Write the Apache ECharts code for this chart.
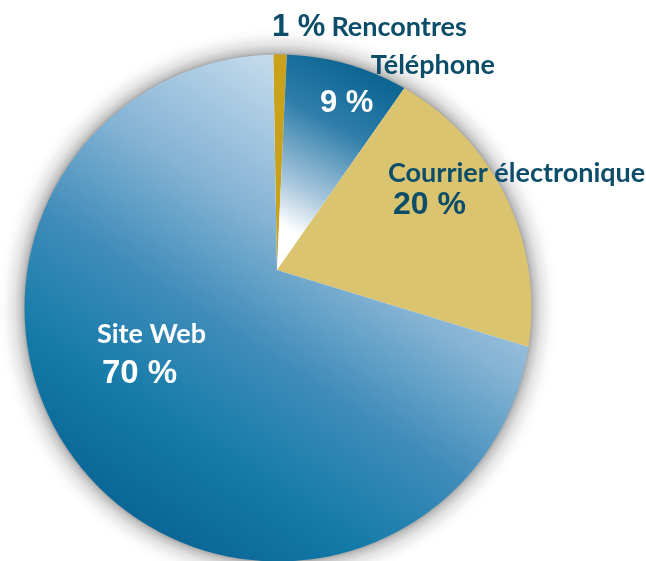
<!DOCTYPE html>
<html>
<head>
<meta charset="utf-8">
<style>
  html, body { margin: 0; padding: 0; background: #ffffff; }
  #chart { width: 646px; height: 561px; }
</style>
<script src="https://cdn.jsdelivr.net/npm/echarts@6/dist/echarts.min.js"></script>
</head>
<body>
<div id="chart"></div>
<script>
// ---- data ----
const categories = ['Rencontres', 'Téléphone', 'Courrier électronique', 'Site Web'];
const values = [1, 9, 20, 70];

// ---- styles ----
const DARK = '#0c4d6a';
const NAME_FONT = 'Lato, "Liberation Sans", sans-serif';
const NUM_FONT = '"Liberation Sans", Arial, sans-serif';

const sliceColors = [
  '#c9a11b',
  { type: 'linear', x: 385, y: 70, x2: 288, y2: 252, global: true,
    colorStops: [
      { offset: 0, color: '#07618f' },
      { offset: 0.35, color: '#2f7eaa' },
      { offset: 0.7, color: '#a9c7dd' },
      { offset: 0.9, color: '#ffffff' },
      { offset: 1, color: '#ffffff' }
    ] },
  '#dbc46f',
  { type: 'linear', x: 420, y: 150, x2: 170, y2: 540, global: true,
    colorStops: [
      { offset: 0, color: '#c5dbec' },
      { offset: 0.3, color: '#86b4d5' },
      { offset: 0.55, color: '#3f8cb9' },
      { offset: 0.8, color: '#137aa8' },
      { offset: 1, color: '#0b6696' }
    ] }
];

const richStyles = {
  n:  { fontFamily: NAME_FONT, fontWeight: 'bold', fontSize: 27, color: DARK },
  nw: { fontFamily: NAME_FONT, fontWeight: 'bold', fontSize: 27, color: '#ffffff' },
  p:  { fontFamily: NUM_FONT, fontWeight: 'bold', fontSize: 32, color: DARK },
  pw: { fontFamily: NUM_FONT, fontWeight: 'bold', fontSize: 32, color: '#ffffff' }
};

const labelFormats = [
  p => `{p1|${p.value} %}{n1|${p.name}}`,
  p => `{nr|${p.name}}\n{pt|${p.value} %}`,
  p => `{nc|${p.name}}\n{pc|${p.value} %}`,
  p => `{ns|${p.name}}\n{ps|${p.value} %}`
];

const labelRich = [
  { p1: Object.assign({}, richStyles.p, { fontSize: 31, lineHeight: 36 }),
    n1: Object.assign({}, richStyles.n, { lineHeight: 36, padding: [0, 0, 0, 6] }) },
  { nr: Object.assign({}, richStyles.n, { lineHeight: 38, align: 'right' }),
    pt: Object.assign({}, richStyles.pw, { fontSize: 31, lineHeight: 38, width: 175, align: 'left' }) },
  { nc: Object.assign({}, richStyles.n, { lineHeight: 32 }),
    pc: Object.assign({}, richStyles.p, { lineHeight: 32, padding: [0, 0, 0, 5] }) },
  { ns: Object.assign({}, richStyles.nw, { lineHeight: 40 }),
    ps: Object.assign({}, richStyles.pw, { fontSize: 33, lineHeight: 40, padding: [0, 0, 0, 5] }) }
];

const chart = echarts.init(document.getElementById('chart'), null, { renderer: 'canvas' });

const pieCenter = [277, 270];
const pieRadius = 300;
const rimCenter = [278, 308];
const rimRadius = 253.5;
const ringOuter = 600;
const k = v => (rimRadius + v) / ringOuter;

const option = {
  backgroundColor: '#ffffff',
  animation: false,
  graphic: [{
    type: 'ring',
    z: 5,
    silent: true,
    shape: { cx: rimCenter[0], cy: rimCenter[1], r: ringOuter, r0: rimRadius },
    style: {
      fill: {
        type: 'radial', x: 0.5, y: 0.5, r: 0.5,
        colorStops: [
          { offset: 0, color: '#a6a6a6' },
          { offset: k(0), color: '#a8a8a8' },
          { offset: k(3), color: '#c4c4c4' },
          { offset: k(10), color: '#e4e4e4' },
          { offset: k(20), color: '#fafafa' },
          { offset: k(27), color: '#ffffff' },
          { offset: 1, color: '#ffffff' }
        ]
      }
    }
  }],
  series: [
    {
      type: 'pie',
      z: 2,
      silent: true,
      center: pieCenter,
      radius: pieRadius,
      startAngle: 91,
      clockwise: true,
      label: { show: false },
      labelLine: { show: false },
      itemStyle: { borderWidth: 0 },
      data: categories.map((name, i) => ({
        name, value: values[i],
        itemStyle: { color: sliceColors[i] }
      }))
    },
    {
      type: 'pie',
      z: 10,
      silent: true,
      center: pieCenter,
      radius: pieRadius,
      startAngle: 91,
      clockwise: true,
      itemStyle: { color: 'rgba(0,0,0,0)', borderWidth: 0 },
      labelLine: { show: false },
      label: { show: true, position: 'inside' },
      labelLayout: function (params) {
        const anchors = [
          { x: 272, y: 9 },
          { x: 320, y: 46 },
          { x: 388, y: 157 },
          { x: 97, y: 314 }
        ];
        const a = anchors[params.dataIndex];
        return { x: a.x, y: a.y, align: 'left', verticalAlign: 'top' };
      },
      data: categories.map((name, i) => ({
        name, value: values[i],
        label: { formatter: labelFormats[i], rich: labelRich[i] }
      }))
    }
  ]
};

chart.setOption(option);
</script>
</body>
</html>
